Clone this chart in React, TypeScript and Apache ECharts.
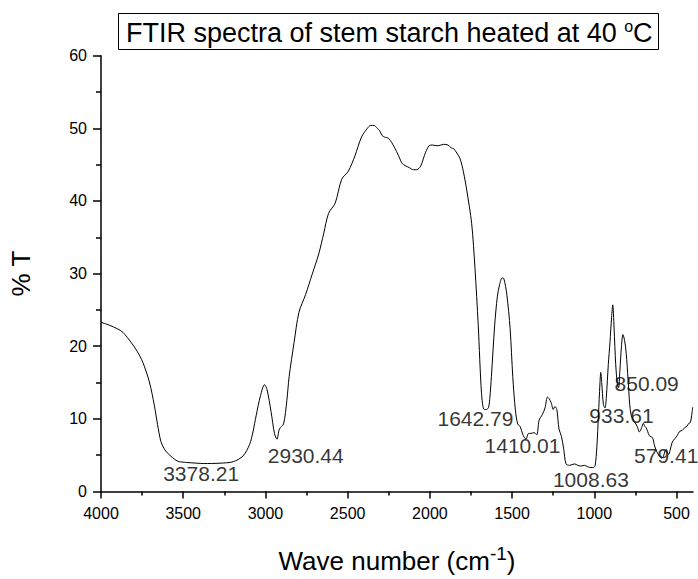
import React, { useEffect, useRef } from "react";
import * as echarts from "echarts";

const waveNumbers = [
  4000, 3950, 3900, 3866, 3816, 3780, 3746, 3706, 3676, 3656, 3636, 3616, 3596, 3536, 3480, 3416, 3378, 3276, 3196, 3136,
  3096, 3076, 3056, 3030, 3006, 2990, 2966, 2945, 2930, 2915, 2890, 2870, 2856, 2826, 2796, 2756, 2716, 2676, 2646, 2616,
  2576, 2536, 2496, 2456, 2416, 2380, 2360, 2340, 2320, 2306, 2290, 2276, 2250, 2216, 2190, 2166, 2126, 2100, 2080, 2056,
  2040, 2026, 2005, 1986, 1950, 1916, 1890, 1870, 1856, 1836, 1816, 1796, 1776, 1746, 1726, 1706, 1686, 1670, 1655, 1643,
  1635, 1626, 1606, 1590, 1576, 1560, 1550, 1532, 1512, 1496, 1480, 1466, 1450, 1436, 1416, 1400, 1386, 1366, 1350, 1336,
  1316, 1300, 1285, 1275, 1262, 1250, 1240, 1228, 1215, 1200, 1186, 1172, 1150, 1120, 1100, 1080, 1060, 1040, 1020, 1005,
  995, 985, 975, 966, 961, 955, 945, 935, 927, 915, 905, 895, 888, 880, 870, 860, 852, 845, 835, 826,
  816, 806, 795, 785, 776, 766, 756, 740, 726, 712, 702, 694, 686, 676, 666, 646, 636, 626, 606, 590,
  580, 570, 562, 555, 548, 540, 526, 510, 496, 480, 466, 450, 436, 425, 416, 408, 402,
];
const transmittance = [
  23.3, 22.9, 22.4, 21.9, 20.5, 19.3, 17.8, 15.1, 11.9, 9.2, 6.9, 5.9, 5.3, 4.2, 4.0, 3.9, 3.85, 3.9, 4.1, 4.9,
  6.5, 8.2, 10.5, 13.2, 14.7, 14.0, 11.0, 8.0, 7.2, 8.6, 9.3, 12.5, 15.8, 20.5, 24.7, 27.1, 29.9, 32.7, 35.5, 38.3,
  39.7, 43.0, 44.1, 46.2, 48.8, 50.0, 50.4, 50.4, 50.0, 49.7, 49.0, 48.8, 48.6, 47.4, 46.2, 45.1, 44.6, 44.3, 44.3, 44.8,
  45.8, 46.7, 47.6, 47.7, 47.6, 47.8, 47.7, 47.3, 47.2, 46.6, 45.8, 44.0, 41.5, 36.9, 30.8, 22.9, 13.5, 11.3, 11.3, 11.6,
  13.0, 15.8, 22.9, 26.8, 28.5, 29.4, 29.3, 27.1, 22.4, 15.8, 11.2, 9.3, 8.9, 7.9, 7.2, 8.0, 8.0, 8.1, 7.8, 9.8,
  10.6, 11.5, 13.0, 12.8, 12.2, 11.3, 11.7, 11.3, 8.6, 7.6, 5.8, 3.8, 3.6, 3.8, 3.6, 3.5, 3.6, 3.4, 3.3, 3.3,
  3.6, 6.0, 10.5, 14.8, 16.4, 15.0, 12.0, 11.5, 13.0, 17.5, 20.5, 24.0, 25.7, 22.5, 17.5, 14.8, 14.3, 16.5, 20.0, 21.6,
  20.8, 19.0, 15.5, 12.0, 10.5, 10.0, 9.6, 9.0, 8.2, 8.8, 9.4, 9.0, 8.8, 8.3, 7.7, 7.4, 6.5, 5.8, 4.9, 4.6,
  4.8, 5.6, 5.8, 5.4, 5.1, 5.6, 6.8, 7.3, 7.7, 8.3, 8.4, 8.8, 9.0, 9.4, 9.5, 10.5, 11.6,
];

const peakLabels = ["3378.21", "2930.44", "1642.79", "1410.01", "1008.63", "933.61", "850.09", "579.41"];
const peakLabelX = [3391, 2755, 1723, 1437, 1021, 835, 682, 563];
const peakLabelY = [2.5, 4.9, 10.0, 6.4, 1.6, 10.4, 14.9, 4.9];

const majorTicks = [4000, 3500, 3000, 2500, 2000, 1500, 1000, 500];
const minorTicksX = [3750, 3250, 2750, 2250, 1750, 1250, 750];

const FONT = "Liberation Sans, Arial, sans-serif";

export default function App() {
  const ref = useRef<HTMLDivElement>(null);
  useEffect(() => {
    if (!ref.current) return;
    const chart = echarts.init(ref.current, null, { renderer: "svg" });
    const lineData = waveNumbers.map((w, i) => [w, transmittance[i]]);
    const labelData = peakLabels.map((n, i) => ({ name: n, value: [peakLabelX[i], peakLabelY[i]] }));
    chart.setOption({
      animation: false,
      backgroundColor: "#ffffff",
      textStyle: { fontFamily: FONT, color: "#000" },
      title: {
        text: "FTIR spectra of stem starch heated at 40 {sup|o}C",
        left: 118,
        top: 13,
        padding: [5, 6, 3, 8],
        borderColor: "#000",
        borderWidth: 1,
        textStyle: {
          fontFamily: FONT,
          fontSize: 27,
          fontWeight: "normal",
          color: "#000",
          rich: {
            sup: { fontFamily: FONT, fontSize: 16, color: "#000", padding: [0, 0, 14, 0] },
          },
        },
      },
      grid: { left: 96.7, right: 5, top: 55.7, bottom: 81.5, containLabel: false },
      xAxis: [
        {
          type: "value",
          min: 400,
          max: 4000,
          inverse: true,
          position: "bottom",
          name: "Wave number (cm{sup|-1})",
          nameLocation: "middle",
          nameGap: 52,
          nameTextStyle: {
            fontFamily: FONT,
            fontSize: 26,
            color: "#000",
            rich: { sup: { fontFamily: FONT, fontSize: 19, color: "#000", padding: [0, 0, 16, 0] } },
          },
          axisLine: { show: true, lineStyle: { color: "#000", width: 1.5 } },
          axisTick: { show: true, inside: false, length: 7, customValues: majorTicks, lineStyle: { color: "#000", width: 1.5 } },
          axisLabel: {
            customValues: majorTicks,
            formatter: (v: number) => String(v),
            fontFamily: FONT,
            fontSize: 16,
            color: "#000",
            margin: 14,
          },
          splitLine: { show: false },
        },
        {
          type: "value",
          min: 400,
          max: 4000,
          inverse: true,
          position: "bottom",
          axisLine: { show: false },
          axisTick: { show: true, inside: false, length: 4, customValues: minorTicksX, lineStyle: { color: "#000", width: 1.5 } },
          axisLabel: { show: false },
          splitLine: { show: false },
        },
      ],
      yAxis: {
        type: "value",
        min: 0,
        max: 60,
        interval: 10,
        name: "% T",
        nameLocation: "middle",
        nameGap: 67,
        nameTextStyle: { fontFamily: FONT, fontSize: 26, color: "#000" },
        axisLine: { show: true, lineStyle: { color: "#000", width: 1.5 } },
        axisTick: { show: true, inside: false, length: 8, lineStyle: { color: "#000", width: 1.5 } },
        minorTick: { show: true, splitNumber: 2, length: 5, lineStyle: { color: "#000", width: 1.5 } },
        axisLabel: { fontFamily: FONT, fontSize: 16, color: "#000", margin: 14 },
        splitLine: { show: false },
        minorSplitLine: { show: false },
      },
      series: [
        {
          type: "line",
          data: lineData,
          showSymbol: false,
          symbol: "none",
          smooth: 0.3,
          lineStyle: { color: "#000", width: 1 },
          silent: true,
        },
        {
          type: "scatter",
          data: labelData,
          symbolSize: 0,
          silent: true,
          itemStyle: { color: "transparent" },
          label: {
            show: true,
            position: "inside",
            formatter: "{b}",
            fontFamily: FONT,
            fontSize: 21,
            color: "#000",
            textBorderWidth: 0,
          },
        },
      ],
    });
    return () => chart.dispose();
  }, []);
  return <div ref={ref} style={{ position: "absolute", left: 0, top: 0, width: 698, height: 579 }} />;
}
